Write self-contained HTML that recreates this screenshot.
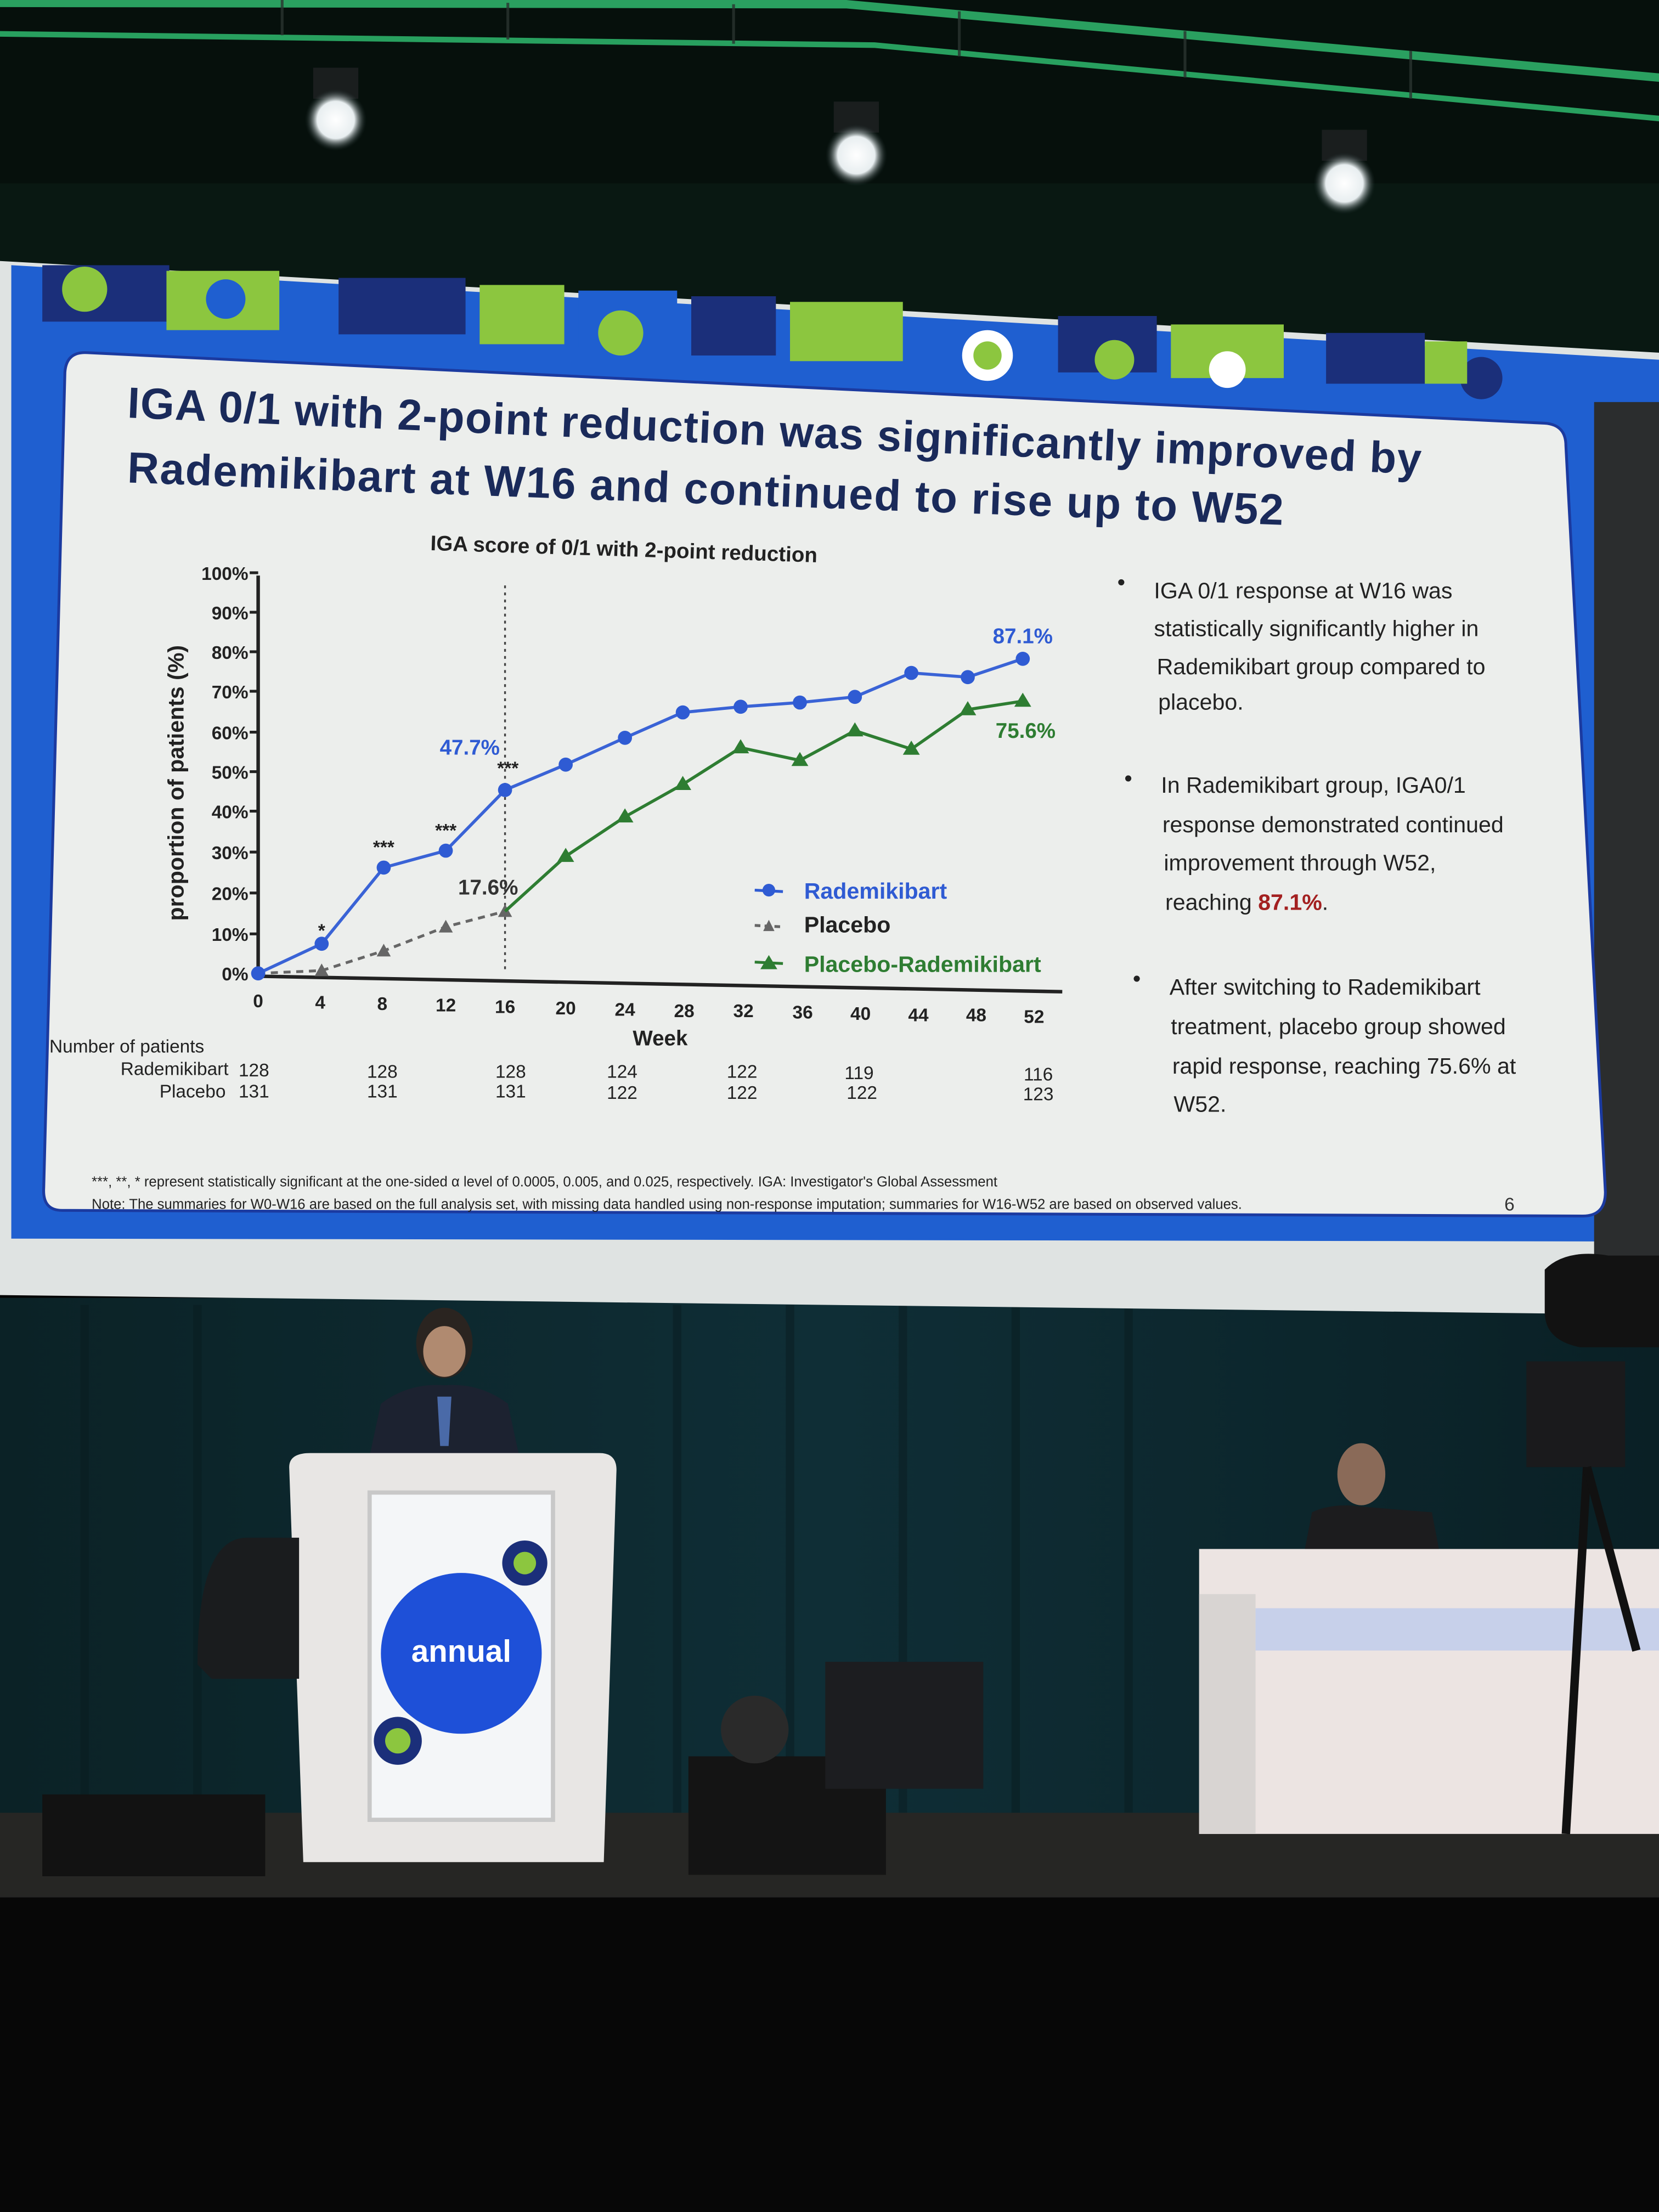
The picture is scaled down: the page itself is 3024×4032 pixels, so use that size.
<!DOCTYPE html>
<html><head><meta charset="utf-8"><style>
html,body{margin:0;padding:0;background:#050505;}
svg{display:block;}
text{font-family:"Liberation Sans",sans-serif;}
</style></head><body>
<svg width="3024" height="4032" viewBox="0 0 1176 1568" preserveAspectRatio="none" xmlns="http://www.w3.org/2000/svg">
<defs>
<radialGradient id="lt" cx="50%" cy="50%" r="50%"><stop offset="0" stop-color="#ffffff"/><stop offset="0.6" stop-color="#e8eef0"/><stop offset="1" stop-color="#1a2a2a" stop-opacity="0"/></radialGradient>
<linearGradient id="cur" x1="0" x2="1"><stop offset="0" stop-color="#0b2226"/><stop offset="0.5" stop-color="#0f2e36"/><stop offset="1" stop-color="#0a2025"/></linearGradient>
</defs>
<rect x="0" y="0" width="1176" height="260" fill="#06100c"/>
<rect x="0" y="130" width="1176" height="130" fill="#091812"/>
<!-- truss -->
<polygon points="0,0 600,0 1176,52 1176,58 600,6 0,5" fill="#2aa060"/>
<polygon points="0,22 620,30 1176,82 1176,86 620,34 0,26" fill="#2cb068" opacity="0.9"/>
<g stroke="#2a3430" stroke-width="2" opacity="0.8">
<line x1="200" y1="0" x2="200" y2="25"/><line x1="360" y1="2" x2="360" y2="28"/><line x1="520" y1="3" x2="520" y2="31"/><line x1="680" y1="8" x2="680" y2="40"/><line x1="840" y1="22" x2="840" y2="55"/><line x1="1000" y1="36" x2="1000" y2="70"/>
</g>
<rect x="222" y="48" width="32" height="22" fill="#1a1e1e"/>
<rect x="591" y="72" width="32" height="22" fill="#1a1e1e"/>
<rect x="937" y="92" width="32" height="22" fill="#1a1e1e"/>
<circle cx="238" cy="85" r="22" fill="url(#lt)"/>
<circle cx="607" cy="110" r="22" fill="url(#lt)"/>
<circle cx="953" cy="130" r="22" fill="url(#lt)"/>
<rect x="0" y="920" width="1176" height="375" fill="url(#cur)"/>
<g stroke="#0a1c20" stroke-width="6" opacity="0.5">
<line x1="60" y1="925" x2="60" y2="1285"/><line x1="140" y1="925" x2="140" y2="1285"/><line x1="480" y1="925" x2="480" y2="1285"/><line x1="560" y1="925" x2="560" y2="1285"/><line x1="640" y1="925" x2="640" y2="1285"/><line x1="720" y1="925" x2="720" y2="1285"/><line x1="800" y1="925" x2="800" y2="1285"/>
</g>
<rect x="0" y="1285" width="1176" height="65" fill="#262624"/>
<rect x="0" y="1345" width="1176" height="223" fill="#070707"/>
<polygon points="0,185 1176,250 1176,932 0,918" fill="#dfe3e2"/>
<polygon points="8,188 1176,255 1176,290 1140,290 1140,880 8,878" fill="#1f5fd0"/>
<rect x="1130" y="285" width="46" height="620" fill="#2b2d2e"/>
<g>
<rect x="30" y="188" width="90" height="40" fill="#1b2f7a"/>
<circle cx="60" cy="205" r="16" fill="#8cc63f"/>
<rect x="118" y="192" width="80" height="42" fill="#8cc63f"/>
<circle cx="160" cy="212" r="14" fill="#1f5fd0"/>
<rect x="240" y="197" width="90" height="40" fill="#1b2f7a"/>
<rect x="340" y="202" width="60" height="42" fill="#8cc63f"/>
<rect x="410" y="206" width="70" height="40" fill="#1f5fd0"/>
<circle cx="440" cy="236" r="16" fill="#8cc63f"/>
<rect x="490" y="210" width="60" height="42" fill="#1b2f7a"/>
<rect x="560" y="214" width="80" height="42" fill="#8cc63f"/>
<circle cx="700" cy="252" r="18" fill="#ffffff"/><circle cx="700" cy="252" r="10" fill="#8cc63f"/>
<rect x="750" y="224" width="70" height="40" fill="#1b2f7a"/>
<circle cx="790" cy="255" r="14" fill="#8cc63f"/>
<rect x="830" y="230" width="80" height="38" fill="#8cc63f"/>
<circle cx="870" cy="262" r="13" fill="#ffffff"/>
<rect x="940" y="236" width="70" height="36" fill="#1b2f7a"/>
<circle cx="1050" cy="268" r="15" fill="#1b2f7a"/>
<rect x="1010" y="242" width="30" height="30" fill="#8cc63f"/>
</g>
<path d="M62,250 L1095,300 Q1110,301 1110,316 L1138,845 Q1138,862 1122,862 L44,858 Q30,858 31,842 L46,264 Q47,249 62,250 Z" fill="#eceeec" stroke="#1b3aa0" stroke-width="2"/>
<text x="90" y="296" font-size="31" font-weight="bold" fill="#1a2a5a" transform="rotate(2.5 90 296)" textLength="918">IGA 0/1 with 2-point reduction was significantly improved by</text>
<text x="90" y="342" font-size="31" font-weight="bold" fill="#1a2a5a" transform="rotate(2.1 90 342)" textLength="820">Rademikibart at W16 and continued to rise up to W52</text>
<text x="305" y="390" font-size="15" font-weight="bold" fill="#222" transform="rotate(1.8 305 390)">IGA score of 0/1 with 2-point reduction</text>
<line x1="183" y1="408" x2="183" y2="692" stroke="#222" stroke-width="2.5"/>
<line x1="183" y1="692" x2="753" y2="703" stroke="#222" stroke-width="2.5"/>
<g font-size="13" font-weight="bold" fill="#222" text-anchor="end">
<text x="176" y="411">100%</text><text x="176" y="439">90%</text><text x="176" y="467">80%</text><text x="176" y="495">70%</text><text x="176" y="524">60%</text><text x="176" y="552">50%</text><text x="176" y="580">40%</text><text x="176" y="609">30%</text><text x="176" y="638">20%</text><text x="176" y="667">10%</text><text x="176" y="695">0%</text>
</g>
<g stroke="#222" stroke-width="2">
<line x1="177" y1="406" x2="183" y2="406"/><line x1="177" y1="434" x2="183" y2="434"/><line x1="177" y1="462" x2="183" y2="462"/><line x1="177" y1="490" x2="183" y2="490"/><line x1="177" y1="519" x2="183" y2="519"/><line x1="177" y1="547" x2="183" y2="547"/><line x1="177" y1="575" x2="183" y2="575"/><line x1="177" y1="604" x2="183" y2="604"/><line x1="177" y1="633" x2="183" y2="633"/><line x1="177" y1="662" x2="183" y2="662"/>
</g>
<text x="130" y="555" font-size="16" font-weight="bold" fill="#222" text-anchor="middle" transform="rotate(-90 130 555)">proportion of patients (%)</text>
<g font-size="13" font-weight="bold" fill="#222" text-anchor="middle">
<text x="183" y="714">0</text><text x="227" y="715">4</text><text x="271" y="716">8</text><text x="316" y="717">12</text><text x="358" y="718">16</text><text x="401" y="719">20</text><text x="443" y="720">24</text><text x="485" y="721">28</text><text x="527" y="721">32</text><text x="569" y="722">36</text><text x="610" y="723">40</text><text x="651" y="724">44</text><text x="692" y="724">48</text><text x="733" y="725">52</text>
</g>
<text x="468" y="741" font-size="15" font-weight="bold" fill="#222" text-anchor="middle">Week</text>
<line x1="358" y1="415" x2="358" y2="690" stroke="#444" stroke-width="1.3" stroke-dasharray="2,3"/>
<polyline points="183,690 228,688 272,674 316,657 358,646" fill="none" stroke="#666" stroke-width="2" stroke-dasharray="5,4"/>
<g fill="#666"><polygon points="228,683 223,692 233,692"/><polygon points="272,669 267,678 277,678"/><polygon points="316,652 311,661 321,661"/><polygon points="358,641 353,650 363,650"/></g>
<polyline points="358,646 401,607 443,579 484,556 525,530 567,539 606,518 646,531 686,503 725,497" fill="none" stroke="#2e7d32" stroke-width="2.2"/>
<g fill="#2e7d32"><polygon points="401,601 395,611 407,611"/><polygon points="443,573 437,583 449,583"/><polygon points="484,550 478,560 490,560"/><polygon points="525,524 519,534 531,534"/><polygon points="567,533 561,543 573,543"/><polygon points="606,512 600,522 612,522"/><polygon points="646,525 640,535 652,535"/><polygon points="686,497 680,507 692,507"/><polygon points="725,491 719,501 731,501"/></g>
<polyline points="183,690 228,669 272,615 316,603 358,560 401,542 443,523 484,505 525,501 567,498 606,494 646,477 686,480 725,467" fill="none" stroke="#3a63d6" stroke-width="2.2"/>
<g fill="#2f5bd3"><circle cx="183" cy="690" r="5"/><circle cx="228" cy="669" r="5"/><circle cx="272" cy="615" r="5"/><circle cx="316" cy="603" r="5"/><circle cx="358" cy="560" r="5"/><circle cx="401" cy="542" r="5"/><circle cx="443" cy="523" r="5"/><circle cx="484" cy="505" r="5"/><circle cx="525" cy="501" r="5"/><circle cx="567" cy="498" r="5"/><circle cx="606" cy="494" r="5"/><circle cx="646" cy="477" r="5"/><circle cx="686" cy="480" r="5"/><circle cx="725" cy="467" r="5"/></g>
<g font-size="13" font-weight="bold" fill="#222" text-anchor="middle">
<text x="228" y="664">*</text><text x="272" y="605">***</text><text x="316" y="593">***</text><text x="360" y="549">***</text>
</g>
<text x="725" y="456" font-size="15" font-weight="bold" fill="#2f5bd3" text-anchor="middle">87.1%</text>
<text x="727" y="523" font-size="15" font-weight="bold" fill="#2e7d32" text-anchor="middle">75.6%</text>
<text x="333" y="535" font-size="15" font-weight="bold" fill="#2f5bd3" text-anchor="middle">47.7%</text>
<text x="346" y="634" font-size="15" font-weight="bold" fill="#333" text-anchor="middle">17.6%</text>
<line x1="535" y1="631" x2="555" y2="632" stroke="#2f5bd3" stroke-width="2"/><circle cx="545" cy="631" r="4.5" fill="#2f5bd3"/>
<text x="570" y="637" font-size="16" font-weight="bold" fill="#2f5bd3">Rademikibart</text>
<line x1="535" y1="656" x2="555" y2="657" stroke="#666" stroke-width="2" stroke-dasharray="4,3"/><polygon points="545,652 541,660 549,660" fill="#666"/>
<text x="570" y="661" font-size="16" font-weight="bold" fill="#222">Placebo</text>
<line x1="535" y1="682" x2="555" y2="683" stroke="#2e7d32" stroke-width="2"/><polygon points="545,677 539,687 551,687" fill="#2e7d32"/>
<text x="570" y="689" font-size="16" font-weight="bold" fill="#2e7d32">Placebo-Rademikibart</text>
<g font-size="13" fill="#222">
<text x="35" y="746">Number of patients</text>
<text x="162" y="762" text-anchor="end">Rademikibart</text>
<text x="160" y="778" text-anchor="end">Placebo</text>
<g text-anchor="middle">
<text x="180" y="763">128</text><text x="271" y="764">128</text><text x="362" y="764">128</text><text x="441" y="764">124</text><text x="526" y="764">122</text><text x="609" y="765">119</text><text x="736" y="766">116</text>
<text x="180" y="778">131</text><text x="271" y="778">131</text><text x="362" y="778">131</text><text x="441" y="779">122</text><text x="526" y="779">122</text><text x="611" y="779">122</text><text x="736" y="780">123</text>
</g>
</g>
<g font-size="16" fill="#222">
<text x="792" y="418">•</text>
<text x="818" y="424">IGA 0/1 response at W16 was</text>
<text x="818" y="451">statistically significantly higher in</text>
<text x="820" y="478">Rademikibart group compared to</text>
<text x="821" y="503">placebo.</text>
<text x="797" y="557">•</text>
<text x="823" y="562">In Rademikibart group, IGA0/1</text>
<text x="824" y="590">response demonstrated continued</text>
<text x="825" y="617">improvement through W52,</text>
<text x="826" y="645">reaching <tspan fill="#a32020" font-weight="bold">87.1%</tspan>.</text>
<text x="803" y="699">•</text>
<text x="829" y="705">After switching to Rademikibart</text>
<text x="830" y="733">treatment, placebo group showed</text>
<text x="831" y="761">rapid response, reaching 75.6% at</text>
<text x="832" y="788">W52.</text>
</g>
<text x="65" y="841" font-size="10" fill="#222">***, **, * represent  statistically significant at the one-sided α level of 0.0005, 0.005, and 0.025, respectively. IGA: Investigator's Global Assessment</text>
<text x="65" y="857" font-size="10" fill="#222">Note:  The summaries for W0-W16 are based on the full analysis set, with missing data handled using non-response imputation; summaries for W16-W52 are based on observed values.</text>
<text x="1070" y="858" font-size="13" fill="#333" text-anchor="middle">6</text>
<ellipse cx="315" cy="952" rx="20" ry="25" fill="#2a2420"/>
<ellipse cx="315" cy="958" rx="15" ry="18" fill="#b08a70"/>
<path d="M262,1032 L270,995 Q290,980 315,982 Q340,980 360,995 L368,1032 Z" fill="#1c2230"/>
<polygon points="310,990 320,990 318,1025 312,1025" fill="#4a6aa8"/>
<path d="M205,1040 Q205,1030 220,1030 L425,1030 Q437,1030 437,1042 L428,1320 L215,1320 Z" fill="#e8e6e4"/>
<rect x="262" y="1058" width="130" height="232" fill="#f4f6f8" stroke="#c8c8c8" stroke-width="3"/>
<circle cx="327" cy="1172" r="57" fill="#1e50d8"/>
<text x="327" y="1178" font-size="22" font-weight="bold" fill="#fff" text-anchor="middle">annual</text>
<circle cx="372" cy="1108" r="16" fill="#1b2f7a"/><circle cx="372" cy="1108" r="8" fill="#8cc63f"/>
<circle cx="282" cy="1234" r="17" fill="#1b2f7a"/><circle cx="282" cy="1234" r="9" fill="#8cc63f"/>
<path d="M140,1180 Q140,1090 175,1090 L212,1090 L212,1190 L150,1190 Z" fill="#1a1c1e"/>
<rect x="30" y="1272" width="158" height="58" fill="#121212"/>
<rect x="488" y="1245" width="140" height="84" fill="#141414"/>
<rect x="585" y="1178" width="112" height="90" fill="#1c1d20"/>
<circle cx="535" cy="1226" r="24" fill="#2a2a2a"/>
<rect x="850" y="1098" width="326" height="202" fill="#ece4e2"/>
<rect x="850" y="1130" width="40" height="170" fill="#d8d4d2"/>
<rect x="890" y="1140" width="286" height="30" fill="#b8c8ee" opacity="0.7"/>
<path d="M925,1098 L930,1072 Q945,1065 965,1068 L1015,1072 L1020,1098 Z" fill="#1c1c1e"/>
<ellipse cx="965" cy="1045" rx="17" ry="22" fill="#8a6a58"/>
<path d="M1095,900 Q1110,885 1140,890 L1176,890 L1176,955 L1120,955 Q1095,950 1095,930 Z" fill="#121212"/>
<rect x="1082" y="965" width="70" height="75" fill="#1a1a1c"/>
<line x1="1125" y1="1040" x2="1110" y2="1300" stroke="#111" stroke-width="6"/>
<line x1="1125" y1="1040" x2="1160" y2="1170" stroke="#111" stroke-width="6"/>
</svg>
</body></html>
